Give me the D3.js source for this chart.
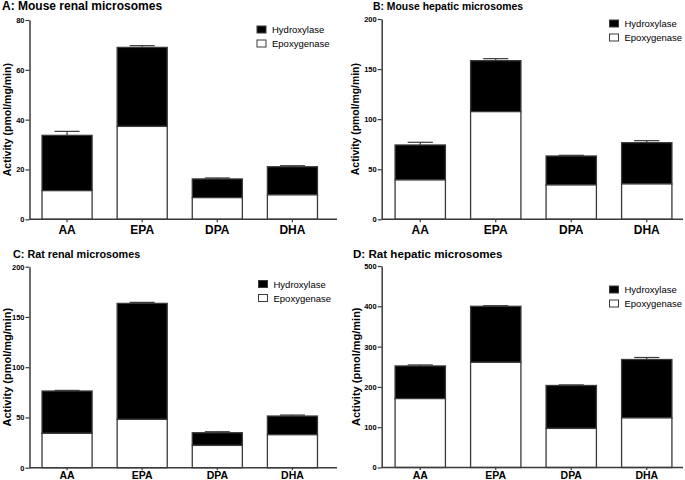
<!DOCTYPE html>
<html>
<head>
<meta charset="utf-8">
<script src="https://cdnjs.cloudflare.com/ajax/libs/d3/7.8.5/d3.min.js"></script>
<style>
  html, body { margin: 0; padding: 0; background: #fff; }
  svg { display: block; font-family: "Liberation Sans", Arial, sans-serif; }
</style>
</head>
<body>
<svg id="chart" width="685" height="480"></svg>
<script>
// ---------- data ----------
const categories = ["AA", "EPA", "DPA", "DHA"];
const seriesNames = ["Hydroxylase", "Epoxygenase"];
const yAxisTitle = "Activity (pmol/mg/min)";

const titleA = "A: Mouse renal microsomes";
const epoxA   = [11.5, 37.3, 8.7, 9.8];
const hydroxA = [22.2, 31.7, 7.5, 11.3];
const errA    = [1.6, 0.7, 0.4, 0.4];
const ticksA  = [0, 20, 40, 60, 80];

const titleB = "B: Mouse hepatic microsomes";
const epoxB   = [39.3, 107.5, 34.3, 35.3];
const hydroxB = [34.9, 50.9, 28.9, 41.2];
const errB    = [2.7, 2.0, 0.7, 2.0];
const ticksB  = [0, 50, 100, 150, 200];

const titleC = "C: Rat renal microsomes";
const epoxC   = [34.2, 48.1, 22.2, 32.8];
const hydroxC = [42.1, 115.4, 12.6, 18.6];
const errC    = [0.6, 1.0, 1.0, 1.0];
const ticksC  = [0, 50, 100, 150, 200];

const titleD = "D: Rat hepatic microsomes";
const epoxD   = [171, 261, 97, 123];
const hydroxD = [81, 139, 106.5, 145];
const errD    = [2.5, 1.5, 1.5, 5];
const ticksD  = [0, 100, 200, 300, 400, 500];

// ---------- layout ----------
const panels = [
  { title: titleA, epox: epoxA, hyd: hydroxA, err: errA, ticks: ticksA,
    ax: 29.5, axEnd: 337, bandL: 29.5, bandR: 330, yTop: 20, yBot: 219.3,
    titleX: 2, titleY: 9.5, titleSize: 12, ylabX: 7, ylabSize: 10.5,
    legX: 257, legY: 26, xlabSize: 12, xlabPad: 3, xTick: 3 },
  { title: titleB, epox: epoxB, hyd: hydroxB, err: errB, ticks: ticksB,
    ax: 381.7, axEnd: 683, bandL: 382.5, bandR: 684.5, yTop: 19, yBot: 219.3,
    titleX: 373, titleY: 9.5, titleSize: 10.4, ylabX: 355.5, ylabSize: 10.4,
    legX: 609.5, legY: 20, xlabSize: 12, xlabPad: 3, xTick: 3 },
  { title: titleC, epox: epoxC, hyd: hydroxC, err: errC, ticks: ticksC,
    ax: 29.5, axEnd: 337, bandL: 29.5, bandR: 330, yTop: 266.7, yBot: 467.7,
    titleX: 13, titleY: 257.5, titleSize: 10.8, ylabX: 7, ylabSize: 11,
    legX: 258.5, legY: 280.5, xlabSize: 10.5, xlabPad: 1.5, xTick: 2.5 },
  { title: titleD, epox: epoxD, hyd: hydroxD, err: errD, ticks: ticksD,
    ax: 381.7, axEnd: 683, bandL: 382.5, bandR: 684.5, yTop: 266, yBot: 467.5,
    titleX: 353, titleY: 257.5, titleSize: 11.6, ylabX: 355.5, ylabSize: 11,
    legX: 609.5, legY: 286, xlabSize: 10.5, xlabPad: 1.5, xTick: 2.5 }
];

const svg = d3.select("#chart");
svg.append("rect").attr("width", 685).attr("height", 480).attr("fill", "#fff");

const STROKE = "#3a3a3a";

panels.forEach(p => {
  const g = svg.append("g");
  const x = d3.scaleBand().domain(categories).range([p.bandL, p.bandR])
    .paddingInner(1 / 3).paddingOuter(1 / 6);
  const yMax = p.ticks[p.ticks.length - 1];
  const y = d3.scaleLinear().domain([0, yMax]).range([p.yBot, p.yTop]);

  // title
  g.append("text").attr("x", p.titleX).attr("y", p.titleY)
    .attr("font-size", p.titleSize).attr("font-weight", "bold")
    .attr("fill", "#000").text(p.title);

  // y axis label
  g.append("text")
    .attr("transform", `translate(${p.ylabX},${(p.yTop + p.yBot) / 2}) rotate(-90)`)
    .attr("text-anchor", "middle").attr("dominant-baseline", "central")
    .attr("font-size", p.ylabSize).attr("font-weight", "bold")
    .attr("fill", "#000").text(yAxisTitle);

  // bars
  const rows = categories.map((c, i) => ({ c, e: p.epox[i], h: p.hyd[i], err: p.err[i] }));
  const bw = x.bandwidth();
  const bars = g.append("g");
  rows.forEach(d => {
    const total = d.e + d.h;
    const cx = x(d.c) + bw / 2;
    // error bar (upper only)
    bars.append("line").attr("x1", cx).attr("x2", cx)
      .attr("y1", y(total)).attr("y2", y(total + d.err))
      .attr("stroke", STROKE).attr("stroke-width", 1.2);
    bars.append("line").attr("x1", cx - bw / 4).attr("x2", cx + bw / 4)
      .attr("y1", y(total + d.err)).attr("y2", y(total + d.err))
      .attr("stroke", STROKE).attr("stroke-width", 1.2);
    // hydroxylase (top, black)
    bars.append("rect").attr("x", x(d.c)).attr("width", bw)
      .attr("y", y(total)).attr("height", y(d.e) - y(total))
      .attr("fill", "#000").attr("stroke", STROKE).attr("stroke-width", 1.3);
    // epoxygenase (bottom, white)
    bars.append("rect").attr("x", x(d.c)).attr("width", bw)
      .attr("y", y(d.e)).attr("height", y(0) - y(d.e))
      .attr("fill", "#fff").attr("stroke", STROKE).attr("stroke-width", 1.3);
  });

  // y axis
  const yAxis = g.append("g").attr("transform", `translate(${p.ax},0)`)
    .call(d3.axisLeft(y).tickValues(p.ticks).tickSize(4).tickPadding(1).tickSizeOuter(0));
  yAxis.select(".domain").attr("stroke", STROKE).attr("stroke-width", 1.5);
  yAxis.selectAll(".tick line").attr("stroke", STROKE).attr("stroke-width", 1.2);
  yAxis.selectAll(".tick text").attr("font-size", 7.5).attr("font-weight", "bold")
    .attr("font-family", "'Liberation Sans', Arial, sans-serif").attr("fill", "#000");

  // x axis
  const xAxis = g.append("g").attr("transform", `translate(0,${p.yBot})`)
    .call(d3.axisBottom(x).tickSize(p.xTick).tickPadding(p.xlabPad).tickSizeOuter(0));
  xAxis.select(".domain").remove();
  xAxis.append("line").attr("x1", p.ax).attr("x2", p.axEnd).attr("y1", 0).attr("y2", 0)
    .attr("stroke", STROKE).attr("stroke-width", 1.5);
  xAxis.selectAll(".tick line").attr("stroke", STROKE).attr("stroke-width", 1.2);
  xAxis.selectAll(".tick text").attr("font-size", p.xlabSize).attr("font-weight", "bold")
    .attr("font-family", "'Liberation Sans', Arial, sans-serif").attr("fill", "#000");

  // legend
  const leg = g.append("g").attr("transform", `translate(${p.legX},${p.legY})`);
  const legFills = ["#000", "#fff"];
  seriesNames.forEach((name, i) => {
    const row = leg.append("g").attr("transform", `translate(0,${i * 14})`);
    row.append("rect").attr("x", 0).attr("y", 0).attr("width", 9).attr("height", 7)
      .attr("fill", legFills[i]).attr("stroke", STROKE).attr("stroke-width", 1);
    row.append("text").attr("x", 15).attr("y", 7).attr("font-size", 9.5)
      .attr("fill", "#000").text(name);
  });
});
</script>
</body>
</html>
